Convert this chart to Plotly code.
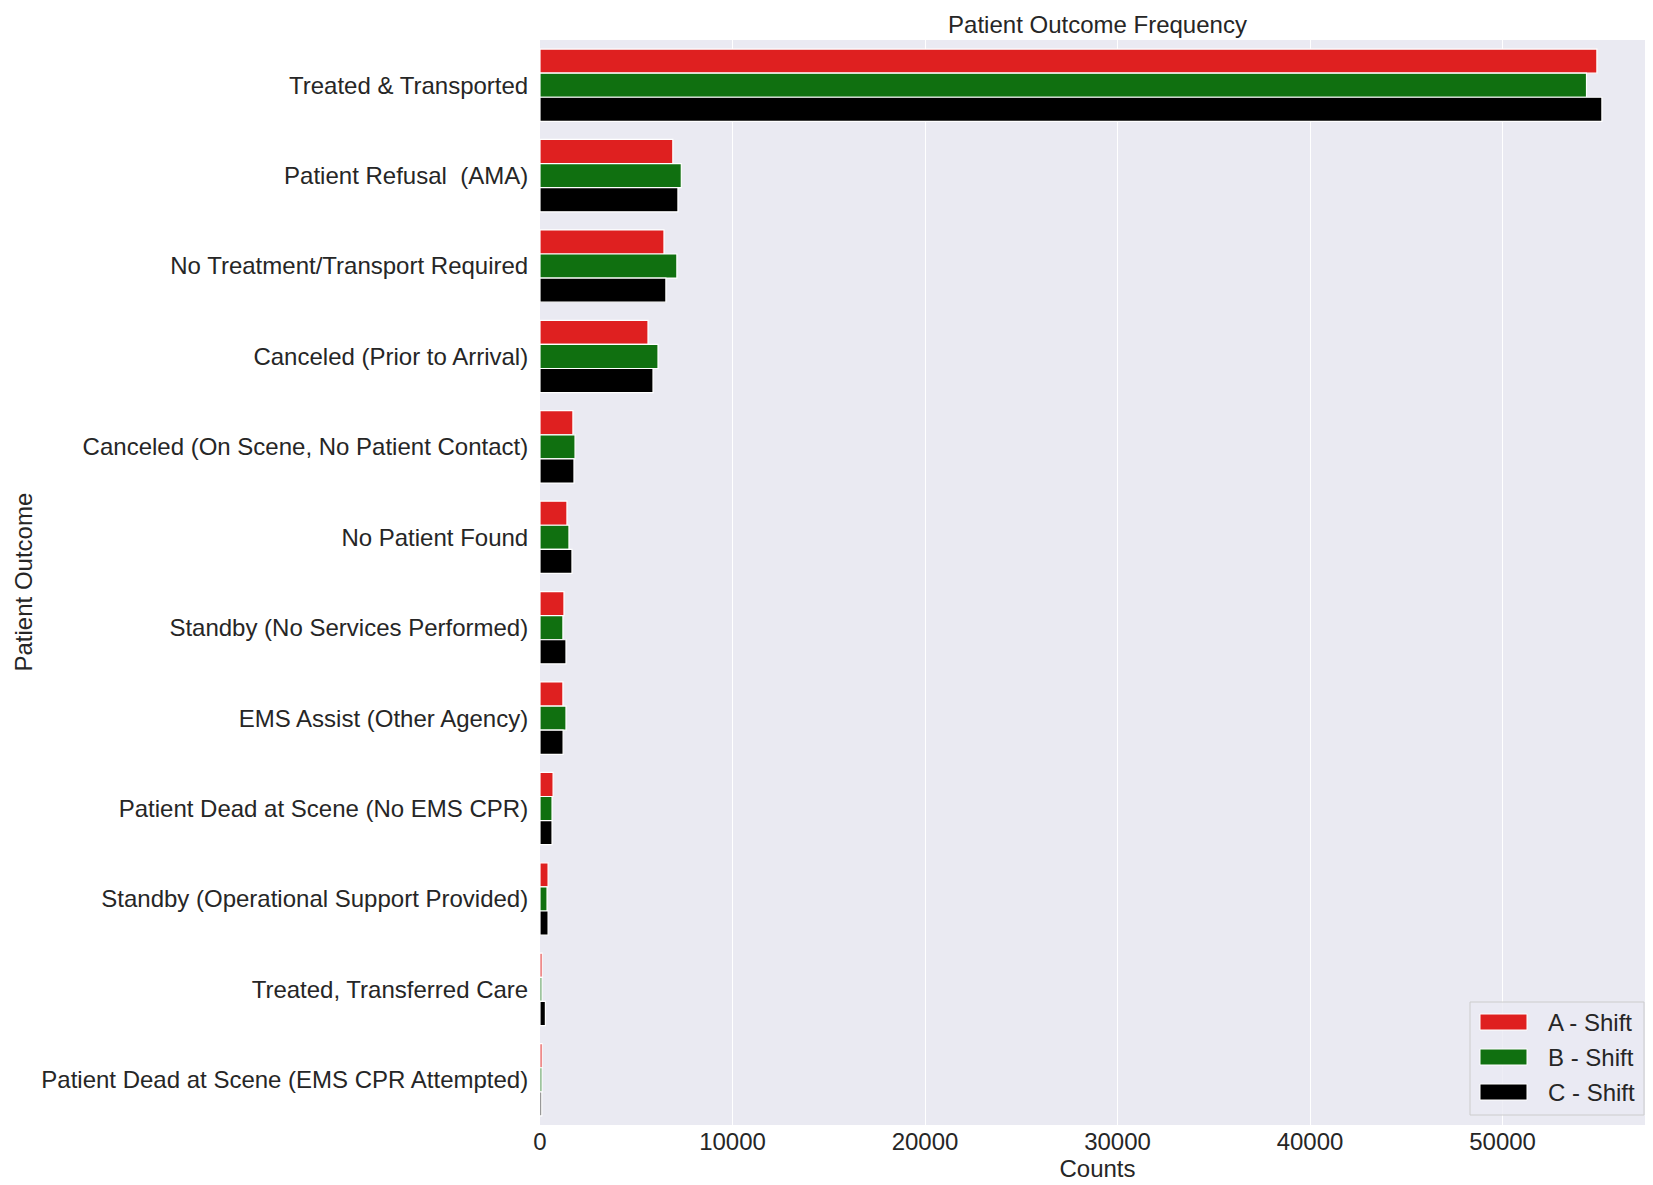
import plotly.graph_objects as go

# Outcome categories, top to bottom
outcomes = [
    "Treated & Transported",
    "Patient Refusal  (AMA)",
    "No Treatment/Transport Required",
    "Canceled (Prior to Arrival)",
    "Canceled (On Scene, No Patient Contact)",
    "No Patient Found",
    "Standby (No Services Performed)",
    "EMS Assist (Other Agency)",
    "Patient Dead at Scene (No EMS CPR)",
    "Standby (Operational Support Provided)",
    "Treated, Transferred Care",
    "Patient Dead at Scene (EMS CPR Attempted)",
]

# counts per shift
a_shift = [54900, 6900, 6440, 5610, 1710, 1400, 1245, 1190, 680, 420, 110, 110]
b_shift = [54360, 7340, 7110, 6130, 1820, 1505, 1190, 1350, 625, 365, 100, 100]
c_shift = [55160, 7165, 6540, 5870, 1765, 1660, 1350, 1200, 625, 420, 280, 90]

shift_names = ["A - Shift", "B - Shift", "C - Shift"]
shift_colors = ["#df2020", "#107010", "#000000"]

FONT = "Arial, Liberation Sans, sans-serif"
TEXT = "#262626"
W, H = 1653, 1185
L, R, T, B = 532, 6, 32, 68

# pixel -> paper helpers for the hand-drawn legend
def px(x):
    return (x - L) / (W - L - R)

def py(y):
    return (H - B - y) / (H - T - B)

fig = go.Figure()
for name, vals, col in zip(shift_names, [a_shift, b_shift, c_shift], shift_colors):
    fig.add_trace(go.Bar(
        y=outcomes, x=vals, name=name, orientation="h",
        marker=dict(color=col, line=dict(color="white", width=1.2)),
        showlegend=False,
    ))

x_max = max(a_shift + b_shift + c_shift) * 1.05

# legend box like seaborn's
shapes = [dict(type="rect", xref="paper", yref="paper",
               x0=px(1462), x1=px(1636), y0=py(1107), y1=py(994),
               fillcolor="rgba(234,234,242,0.8)", line=dict(color="#cccccc", width=1))]
annotations = []
for i, (name, col) in enumerate(zip(shift_names, shift_colors)):
    cy = 1014 + 35 * i
    shapes.append(dict(type="rect", xref="paper", yref="paper",
                       x0=px(1472), x1=px(1519), y0=py(cy + 8), y1=py(cy - 8),
                       fillcolor=col, line=dict(color="white", width=1)))
    annotations.append(dict(text=name, xref="paper", yref="paper",
                            x=px(1538), y=py(cy), xanchor="left", yanchor="middle",
                            showarrow=False, font=dict(size=24, color=TEXT)))

# y axis title
annotations.append(dict(text="Patient Outcome", xref="paper", yref="paper",
                        x=px(15), y=0.5, textangle=-90, xanchor="center",
                        yanchor="middle", showarrow=False,
                        font=dict(size=24, color=TEXT)))

fig.update_layout(
    width=W, height=H,
    barmode="group", bargap=0.2, bargroupgap=0,
    paper_bgcolor="white", plot_bgcolor="#eaeaf2",
    font=dict(family=FONT, size=24, color=TEXT),
    margin=dict(l=L, r=R, t=T, b=B),
    title=dict(text="Patient Outcome Frequency", x=0.5, xref="paper",
               y=1 - 17 / H, yanchor="middle", yref="container",
               font=dict(size=24, color=TEXT)),
    xaxis=dict(
        range=[0, x_max], tickvals=[0, 10000, 20000, 30000, 40000, 50000],
        tickformat="d", showgrid=True, gridcolor="white", gridwidth=1.3,
        zeroline=False, ticks="", automargin=False,
        title=dict(text="Counts", standoff=0, font=dict(size=24)),
        tickfont=dict(size=24),
    ),
    yaxis=dict(
        autorange="reversed", showgrid=False, zeroline=False,
        ticks="outside", ticklen=6, tickcolor="rgba(0,0,0,0)", automargin=False,
        tickfont=dict(size=24),
    ),
    shapes=shapes,
    annotations=annotations,
)

fig.write_html("out.html")
